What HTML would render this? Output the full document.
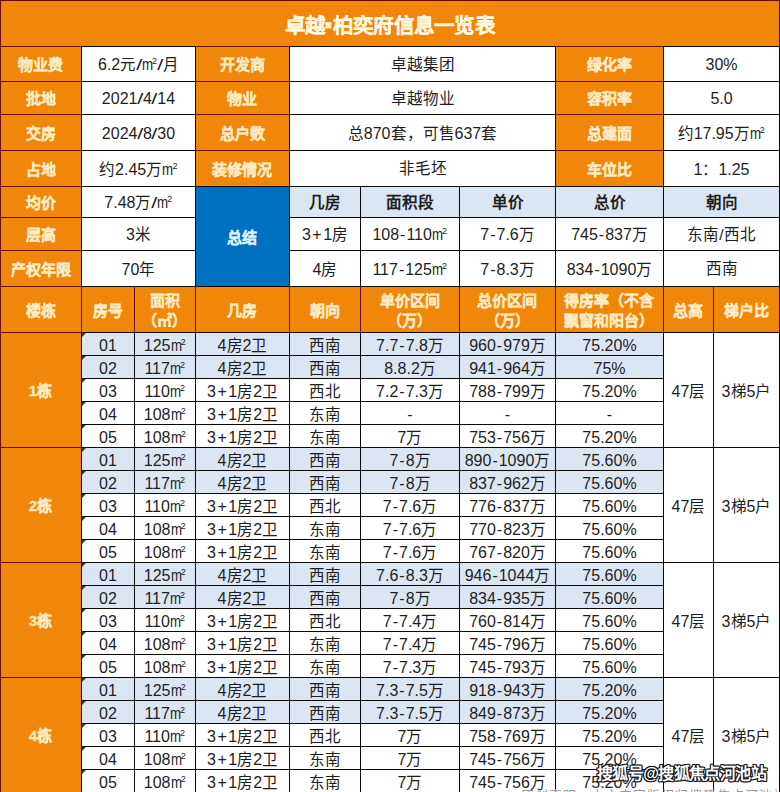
<!DOCTYPE html>
<html lang="zh-CN"><head><meta charset="utf-8">
<style>
html,body{margin:0;padding:0;background:#fff;}
body{width:780px;height:792px;position:relative;overflow:hidden;font-family:"Liberation Sans",sans-serif;}
.r{position:absolute;}
.t span{position:relative;top:1.5px;left:0.5px;}
.t i{font-style:normal;margin:0 0.6px;display:inline-block;transform:scaleX(1.4);}
.t b{font-weight:normal;font-size:16px;}
.t u{text-decoration:none;margin:0 1.5px;}
.t q{margin:0 1px;}
.t q::before,.t q::after{content:none;}
.t.b b{font-weight:bold;}
.t s{text-decoration:none;display:inline-block;width:11.2px;font-size:16px;transform:scaleX(0.83);transform-origin:0 50%;}
.t sub{font-size:9px;vertical-align:baseline;position:relative;top:-6px;margin-left:-1px;margin-right:0.5px;}
.h span{position:relative;top:1.5px;}
.t.d span{top:2.5px;}
.t,.h{position:absolute;display:flex;align-items:center;justify-content:center;text-align:center;color:#1e1e1e;font-size:15.5px;line-height:1.2;white-space:nowrap;}
.h{color:#fdebc4;font-weight:bold;font-size:15px;-webkit-text-stroke:0.3px #fdebc4;}
.title span{top:3px !important;}
.dot{font-style:normal;display:inline-block;transform:scale(1.8);}
.title{font-size:20.5px;letter-spacing:0.3px;color:#fff6e0;-webkit-text-stroke:0.3px #fff6e0;}
.blue{color:#dcf3ff;-webkit-text-stroke-color:#dcf3ff;}
.b{font-weight:bold;}
.hd{line-height:20px;}
.tri{position:absolute;width:0;height:0;border-top:4px solid #3a3f1c;border-right:4px solid transparent;}
.ft{position:absolute;left:521px;top:788px;font-size:13px;line-height:16px;color:#9a9a9a;white-space:nowrap;letter-spacing:1px;}
.wm{position:absolute;left:597px;top:766px;line-height:16px;font-size:16px;letter-spacing:-0.6px;font-weight:bold;color:#fff;white-space:nowrap;
 text-shadow:-1px -1px 0 #111,1px -1px 0 #111,-1px 1px 0 #111,1px 1px 0 #111,0 1px 0 #111,1px 0 0 #111,-1px 0 0 #111,0 -1px 0 #111;}
</style></head><body>
<div class="r" style="left:0px;top:0px;width:780px;height:46px;background:#f0860a"></div>
<div class="h title" style="left:0px;top:0px;width:780px;height:46px;"><span>卓越<em class="dot">·</em>柏奕府信息一览表</span></div>
<div class="r" style="left:0px;top:46px;width:81px;height:35px;background:#f0860a"></div>
<div class="h" style="left:0px;top:46px;width:81px;height:35px;"><span>物业费</span></div>
<div class="r" style="left:81px;top:46px;width:114px;height:35px;background:#fff"></div>
<div class="t" style="left:81px;top:46px;width:114px;height:35px;"><span><b>6.2</b>元<i>/</i><s>m</s><sub>2</sub><i>/</i>月</span></div>
<div class="r" style="left:195px;top:46px;width:94px;height:35px;background:#f0860a"></div>
<div class="h" style="left:195px;top:46px;width:94px;height:35px;"><span>开发商</span></div>
<div class="r" style="left:289px;top:46px;width:266px;height:35px;background:#fff"></div>
<div class="t" style="left:289px;top:46px;width:266px;height:35px;"><span>卓越集团</span></div>
<div class="r" style="left:555px;top:46px;width:108px;height:35px;background:#f0860a"></div>
<div class="h" style="left:555px;top:46px;width:108px;height:35px;"><span>绿化率</span></div>
<div class="r" style="left:663px;top:46px;width:116px;height:35px;background:#fff"></div>
<div class="t" style="left:663px;top:46px;width:116px;height:35px;"><span><b>30%</b></span></div>
<div class="r" style="left:0px;top:81px;width:81px;height:33px;background:#f0860a"></div>
<div class="h" style="left:0px;top:81px;width:81px;height:33px;"><span>批地</span></div>
<div class="r" style="left:81px;top:81px;width:114px;height:33px;background:#fff"></div>
<div class="t" style="left:81px;top:81px;width:114px;height:33px;"><span><b>2021</b><i>/</i><b>4</b><i>/</i><b>14</b></span></div>
<div class="r" style="left:195px;top:81px;width:94px;height:33px;background:#f0860a"></div>
<div class="h" style="left:195px;top:81px;width:94px;height:33px;"><span>物业</span></div>
<div class="r" style="left:289px;top:81px;width:266px;height:33px;background:#fff"></div>
<div class="t" style="left:289px;top:81px;width:266px;height:33px;"><span>卓越物业</span></div>
<div class="r" style="left:555px;top:81px;width:108px;height:33px;background:#f0860a"></div>
<div class="h" style="left:555px;top:81px;width:108px;height:33px;"><span>容积率</span></div>
<div class="r" style="left:663px;top:81px;width:116px;height:33px;background:#fff"></div>
<div class="t" style="left:663px;top:81px;width:116px;height:33px;"><span><b>5.0</b></span></div>
<div class="r" style="left:0px;top:114px;width:81px;height:36px;background:#f0860a"></div>
<div class="h" style="left:0px;top:114px;width:81px;height:36px;"><span>交房</span></div>
<div class="r" style="left:81px;top:114px;width:114px;height:36px;background:#fff"></div>
<div class="t" style="left:81px;top:114px;width:114px;height:36px;"><span><b>2024</b><i>/</i><b>8</b><i>/</i><b>30</b></span></div>
<div class="r" style="left:195px;top:114px;width:94px;height:36px;background:#f0860a"></div>
<div class="h" style="left:195px;top:114px;width:94px;height:36px;"><span>总户数</span></div>
<div class="r" style="left:289px;top:114px;width:266px;height:36px;background:#fff"></div>
<div class="t" style="left:289px;top:114px;width:266px;height:36px;"><span>总<b>870</b>套，可售<b>637</b>套</span></div>
<div class="r" style="left:555px;top:114px;width:108px;height:36px;background:#f0860a"></div>
<div class="h" style="left:555px;top:114px;width:108px;height:36px;"><span>总建面</span></div>
<div class="r" style="left:663px;top:114px;width:116px;height:36px;background:#fff"></div>
<div class="t" style="left:663px;top:114px;width:116px;height:36px;"><span>约<b>17.95</b>万<s>m</s><sub>2</sub></span></div>
<div class="r" style="left:0px;top:150px;width:81px;height:36px;background:#f0860a"></div>
<div class="h" style="left:0px;top:150px;width:81px;height:36px;"><span>占地</span></div>
<div class="r" style="left:81px;top:150px;width:114px;height:36px;background:#fff"></div>
<div class="t" style="left:81px;top:150px;width:114px;height:36px;"><span>约<b>2.45</b>万<s>m</s><sub>2</sub></span></div>
<div class="r" style="left:195px;top:150px;width:94px;height:36px;background:#f0860a"></div>
<div class="h" style="left:195px;top:150px;width:94px;height:36px;"><span>装修情况</span></div>
<div class="r" style="left:289px;top:150px;width:266px;height:36px;background:#fff"></div>
<div class="t" style="left:289px;top:150px;width:266px;height:36px;"><span>非毛坯</span></div>
<div class="r" style="left:555px;top:150px;width:108px;height:36px;background:#f0860a"></div>
<div class="h" style="left:555px;top:150px;width:108px;height:36px;"><span>车位比</span></div>
<div class="r" style="left:663px;top:150px;width:116px;height:36px;background:#fff"></div>
<div class="t" style="left:663px;top:150px;width:116px;height:36px;"><span><b>1</b>：<b>1.25</b></span></div>
<div class="r" style="left:0px;top:186px;width:81px;height:31px;background:#f0860a"></div>
<div class="h" style="left:0px;top:186px;width:81px;height:31px;"><span>均价</span></div>
<div class="r" style="left:81px;top:186px;width:114px;height:31px;background:#fff"></div>
<div class="t" style="left:81px;top:186px;width:114px;height:31px;"><span><b>7.48</b>万<i>/</i><s>m</s><sub>2</sub></span></div>
<div class="r" style="left:0px;top:217px;width:81px;height:33px;background:#f0860a"></div>
<div class="h" style="left:0px;top:217px;width:81px;height:33px;"><span>层高</span></div>
<div class="r" style="left:81px;top:217px;width:114px;height:33px;background:#fff"></div>
<div class="t" style="left:81px;top:217px;width:114px;height:33px;"><span><b>3</b>米</span></div>
<div class="r" style="left:0px;top:250px;width:81px;height:36px;background:#f0860a"></div>
<div class="h" style="left:0px;top:250px;width:81px;height:36px;"><span>产权年限</span></div>
<div class="r" style="left:81px;top:250px;width:114px;height:36px;background:#fff"></div>
<div class="t" style="left:81px;top:250px;width:114px;height:36px;"><span><b>70</b>年</span></div>
<div class="r" style="left:195px;top:186px;width:94px;height:100px;background:#0070c0"></div>
<div class="h blue" style="left:195px;top:186px;width:94px;height:100px;"><span>总结</span></div>
<div class="r" style="left:289px;top:186px;width:71px;height:31px;background:#dce5f2"></div>
<div class="t b" style="left:289px;top:186px;width:71px;height:31px;"><span>几房</span></div>
<div class="r" style="left:360px;top:186px;width:99px;height:31px;background:#dce5f2"></div>
<div class="t b" style="left:360px;top:186px;width:99px;height:31px;"><span>面积段</span></div>
<div class="r" style="left:459px;top:186px;width:96px;height:31px;background:#dce5f2"></div>
<div class="t b" style="left:459px;top:186px;width:96px;height:31px;"><span>单价</span></div>
<div class="r" style="left:555px;top:186px;width:108px;height:31px;background:#dce5f2"></div>
<div class="t b" style="left:555px;top:186px;width:108px;height:31px;"><span>总价</span></div>
<div class="r" style="left:663px;top:186px;width:116px;height:31px;background:#dce5f2"></div>
<div class="t b" style="left:663px;top:186px;width:116px;height:31px;"><span>朝向</span></div>
<div class="r" style="left:289px;top:217px;width:71px;height:33px;background:#fff"></div>
<div class="t" style="left:289px;top:217px;width:71px;height:33px;"><span><b>3<u>+</u>1</b>房</span></div>
<div class="r" style="left:360px;top:217px;width:99px;height:33px;background:#fff"></div>
<div class="t" style="left:360px;top:217px;width:99px;height:33px;"><span><b>108<q>-</q>110</b><s>m</s><sub>2</sub></span></div>
<div class="r" style="left:459px;top:217px;width:96px;height:33px;background:#fff"></div>
<div class="t" style="left:459px;top:217px;width:96px;height:33px;"><span><b>7<q>-</q>7.6</b>万</span></div>
<div class="r" style="left:555px;top:217px;width:108px;height:33px;background:#fff"></div>
<div class="t" style="left:555px;top:217px;width:108px;height:33px;"><span><b>745<q>-</q>837</b>万</span></div>
<div class="r" style="left:663px;top:217px;width:116px;height:33px;background:#fff"></div>
<div class="t" style="left:663px;top:217px;width:116px;height:33px;"><span>东南/西北</span></div>
<div class="r" style="left:289px;top:250px;width:71px;height:36px;background:#fff"></div>
<div class="t" style="left:289px;top:250px;width:71px;height:36px;"><span><b>4</b>房</span></div>
<div class="r" style="left:360px;top:250px;width:99px;height:36px;background:#fff"></div>
<div class="t" style="left:360px;top:250px;width:99px;height:36px;"><span><b>117<q>-</q>125</b><s>m</s><sub>2</sub></span></div>
<div class="r" style="left:459px;top:250px;width:96px;height:36px;background:#fff"></div>
<div class="t" style="left:459px;top:250px;width:96px;height:36px;"><span><b>7<q>-</q>8.3</b>万</span></div>
<div class="r" style="left:555px;top:250px;width:108px;height:36px;background:#fff"></div>
<div class="t" style="left:555px;top:250px;width:108px;height:36px;"><span><b>834<q>-</q>1090</b>万</span></div>
<div class="r" style="left:663px;top:250px;width:116px;height:36px;background:#fff"></div>
<div class="t" style="left:663px;top:250px;width:116px;height:36px;"><span>西南</span></div>
<div class="r" style="left:0px;top:286px;width:81px;height:46px;background:#f0860a"></div>
<div class="h hd" style="left:0px;top:286px;width:81px;height:46px;"><span>楼栋</span></div>
<div class="r" style="left:81px;top:286px;width:53px;height:46px;background:#f0860a"></div>
<div class="h hd" style="left:81px;top:286px;width:53px;height:46px;"><span>房号</span></div>
<div class="r" style="left:134px;top:286px;width:61px;height:46px;background:#f0860a"></div>
<div class="h hd" style="left:134px;top:286px;width:61px;height:46px;"><span>面积<br>（㎡）</span></div>
<div class="r" style="left:195px;top:286px;width:94px;height:46px;background:#f0860a"></div>
<div class="h hd" style="left:195px;top:286px;width:94px;height:46px;"><span>几房</span></div>
<div class="r" style="left:289px;top:286px;width:71px;height:46px;background:#f0860a"></div>
<div class="h hd" style="left:289px;top:286px;width:71px;height:46px;"><span>朝向</span></div>
<div class="r" style="left:360px;top:286px;width:99px;height:46px;background:#f0860a"></div>
<div class="h hd" style="left:360px;top:286px;width:99px;height:46px;"><span>单价区间<br>（万）</span></div>
<div class="r" style="left:459px;top:286px;width:96px;height:46px;background:#f0860a"></div>
<div class="h hd" style="left:459px;top:286px;width:96px;height:46px;"><span>总价区间<br>（万）</span></div>
<div class="r" style="left:555px;top:286px;width:108px;height:46px;background:#f0860a"></div>
<div class="h hd" style="left:555px;top:286px;width:108px;height:46px;"><span>得房率（不含<br>飘窗和阳台）</span></div>
<div class="r" style="left:663px;top:286px;width:50px;height:46px;background:#f0860a"></div>
<div class="h hd" style="left:663px;top:286px;width:50px;height:46px;"><span>总高</span></div>
<div class="r" style="left:713px;top:286px;width:66px;height:46px;background:#f0860a"></div>
<div class="h hd" style="left:713px;top:286px;width:66px;height:46px;"><span>梯户比</span></div>
<div class="r" style="left:0px;top:332.0px;width:81px;height:115.0px;background:#f0860a"></div>
<div class="h" style="left:0px;top:332.0px;width:81px;height:115.0px;"><span>1栋</span></div>
<div class="r" style="left:663px;top:332.0px;width:50px;height:115.0px;background:#fff"></div>
<div class="t d" style="left:663px;top:332.0px;width:50px;height:115.0px;"><span><b>47</b>层</span></div>
<div class="r" style="left:713px;top:332.0px;width:66px;height:115.0px;background:#fff"></div>
<div class="t d" style="left:713px;top:332.0px;width:66px;height:115.0px;"><span><b>3</b>梯<b>5</b>户</span></div>
<div class="r" style="left:81px;top:332.0px;width:582px;height:23.0px;background:#dce5f2"></div>
<div class="t d" style="left:81px;top:332.0px;width:53px;height:23.0px;"><span><b>01</b></span></div>
<div class="t d" style="left:134px;top:332.0px;width:61px;height:23.0px;"><span><b>125</b><s>m</s><sub>2</sub></span></div>
<div class="t d" style="left:195px;top:332.0px;width:94px;height:23.0px;"><span><b>4</b>房<b>2</b>卫</span></div>
<div class="t d" style="left:289px;top:332.0px;width:71px;height:23.0px;"><span>西南</span></div>
<div class="t d" style="left:360px;top:332.0px;width:99px;height:23.0px;"><span><b>7.7<q>-</q>7.8</b>万</span></div>
<div class="t d" style="left:459px;top:332.0px;width:96px;height:23.0px;"><span><b>960<q>-</q>979</b>万</span></div>
<div class="t d" style="left:555px;top:332.0px;width:108px;height:23.0px;"><span><b>75.20%</b></span></div>
<div class="r" style="left:81px;top:355.0px;width:582px;height:23.0px;background:#dce5f2"></div>
<div class="t d" style="left:81px;top:355.0px;width:53px;height:23.0px;"><span><b>02</b></span></div>
<div class="t d" style="left:134px;top:355.0px;width:61px;height:23.0px;"><span><b>117</b><s>m</s><sub>2</sub></span></div>
<div class="t d" style="left:195px;top:355.0px;width:94px;height:23.0px;"><span><b>4</b>房<b>2</b>卫</span></div>
<div class="t d" style="left:289px;top:355.0px;width:71px;height:23.0px;"><span>西南</span></div>
<div class="t d" style="left:360px;top:355.0px;width:99px;height:23.0px;"><span><b>8.8.2</b>万</span></div>
<div class="t d" style="left:459px;top:355.0px;width:96px;height:23.0px;"><span><b>941<q>-</q>964</b>万</span></div>
<div class="t d" style="left:555px;top:355.0px;width:108px;height:23.0px;"><span><b>75%</b></span></div>
<div class="r" style="left:81px;top:378.0px;width:582px;height:23.0px;background:#fff"></div>
<div class="t d" style="left:81px;top:378.0px;width:53px;height:23.0px;"><span><b>03</b></span></div>
<div class="t d" style="left:134px;top:378.0px;width:61px;height:23.0px;"><span><b>110</b><s>m</s><sub>2</sub></span></div>
<div class="t d" style="left:195px;top:378.0px;width:94px;height:23.0px;"><span><b>3<u>+</u>1</b>房<b>2</b>卫</span></div>
<div class="t d" style="left:289px;top:378.0px;width:71px;height:23.0px;"><span>西北</span></div>
<div class="t d" style="left:360px;top:378.0px;width:99px;height:23.0px;"><span><b>7.2<q>-</q>7.3</b>万</span></div>
<div class="t d" style="left:459px;top:378.0px;width:96px;height:23.0px;"><span><b>788<q>-</q>799</b>万</span></div>
<div class="t d" style="left:555px;top:378.0px;width:108px;height:23.0px;"><span><b>75.20%</b></span></div>
<div class="r" style="left:81px;top:401.0px;width:582px;height:23.0px;background:#fff"></div>
<div class="t d" style="left:81px;top:401.0px;width:53px;height:23.0px;"><span><b>04</b></span></div>
<div class="t d" style="left:134px;top:401.0px;width:61px;height:23.0px;"><span><b>108</b><s>m</s><sub>2</sub></span></div>
<div class="t d" style="left:195px;top:401.0px;width:94px;height:23.0px;"><span><b>3<u>+</u>1</b>房<b>2</b>卫</span></div>
<div class="t d" style="left:289px;top:401.0px;width:71px;height:23.0px;"><span>东南</span></div>
<div class="t d" style="left:360px;top:401.0px;width:99px;height:23.0px;"><span><b><q>-</q></b></span></div>
<div class="t d" style="left:459px;top:401.0px;width:96px;height:23.0px;"><span><b><q>-</q></b></span></div>
<div class="t d" style="left:555px;top:401.0px;width:108px;height:23.0px;"><span><b><q>-</q></b></span></div>
<div class="r" style="left:81px;top:424.0px;width:582px;height:23.0px;background:#fff"></div>
<div class="t d" style="left:81px;top:424.0px;width:53px;height:23.0px;"><span><b>05</b></span></div>
<div class="t d" style="left:134px;top:424.0px;width:61px;height:23.0px;"><span><b>108</b><s>m</s><sub>2</sub></span></div>
<div class="t d" style="left:195px;top:424.0px;width:94px;height:23.0px;"><span><b>3<u>+</u>1</b>房<b>2</b>卫</span></div>
<div class="t d" style="left:289px;top:424.0px;width:71px;height:23.0px;"><span>东南</span></div>
<div class="t d" style="left:360px;top:424.0px;width:99px;height:23.0px;"><span><b>7</b>万</span></div>
<div class="t d" style="left:459px;top:424.0px;width:96px;height:23.0px;"><span><b>753<q>-</q>756</b>万</span></div>
<div class="t d" style="left:555px;top:424.0px;width:108px;height:23.0px;"><span><b>75.20%</b></span></div>
<div class="r" style="left:0px;top:447.0px;width:81px;height:115.0px;background:#f0860a"></div>
<div class="h" style="left:0px;top:447.0px;width:81px;height:115.0px;"><span>2栋</span></div>
<div class="r" style="left:663px;top:447.0px;width:50px;height:115.0px;background:#fff"></div>
<div class="t d" style="left:663px;top:447.0px;width:50px;height:115.0px;"><span><b>47</b>层</span></div>
<div class="r" style="left:713px;top:447.0px;width:66px;height:115.0px;background:#fff"></div>
<div class="t d" style="left:713px;top:447.0px;width:66px;height:115.0px;"><span><b>3</b>梯<b>5</b>户</span></div>
<div class="r" style="left:81px;top:447.0px;width:582px;height:23.0px;background:#dce5f2"></div>
<div class="t d" style="left:81px;top:447.0px;width:53px;height:23.0px;"><span><b>01</b></span></div>
<div class="t d" style="left:134px;top:447.0px;width:61px;height:23.0px;"><span><b>125</b><s>m</s><sub>2</sub></span></div>
<div class="t d" style="left:195px;top:447.0px;width:94px;height:23.0px;"><span><b>4</b>房<b>2</b>卫</span></div>
<div class="t d" style="left:289px;top:447.0px;width:71px;height:23.0px;"><span>西南</span></div>
<div class="t d" style="left:360px;top:447.0px;width:99px;height:23.0px;"><span><b>7<q>-</q>8</b>万</span></div>
<div class="t d" style="left:459px;top:447.0px;width:96px;height:23.0px;"><span><b>890<q>-</q>1090</b>万</span></div>
<div class="t d" style="left:555px;top:447.0px;width:108px;height:23.0px;"><span><b>75.60%</b></span></div>
<div class="r" style="left:81px;top:470.0px;width:582px;height:23.0px;background:#dce5f2"></div>
<div class="t d" style="left:81px;top:470.0px;width:53px;height:23.0px;"><span><b>02</b></span></div>
<div class="t d" style="left:134px;top:470.0px;width:61px;height:23.0px;"><span><b>117</b><s>m</s><sub>2</sub></span></div>
<div class="t d" style="left:195px;top:470.0px;width:94px;height:23.0px;"><span><b>4</b>房<b>2</b>卫</span></div>
<div class="t d" style="left:289px;top:470.0px;width:71px;height:23.0px;"><span>西南</span></div>
<div class="t d" style="left:360px;top:470.0px;width:99px;height:23.0px;"><span><b>7<q>-</q>8</b>万</span></div>
<div class="t d" style="left:459px;top:470.0px;width:96px;height:23.0px;"><span><b>837<q>-</q>962</b>万</span></div>
<div class="t d" style="left:555px;top:470.0px;width:108px;height:23.0px;"><span><b>75.60%</b></span></div>
<div class="r" style="left:81px;top:493.0px;width:582px;height:23.0px;background:#fff"></div>
<div class="t d" style="left:81px;top:493.0px;width:53px;height:23.0px;"><span><b>03</b></span></div>
<div class="t d" style="left:134px;top:493.0px;width:61px;height:23.0px;"><span><b>110</b><s>m</s><sub>2</sub></span></div>
<div class="t d" style="left:195px;top:493.0px;width:94px;height:23.0px;"><span><b>3<u>+</u>1</b>房<b>2</b>卫</span></div>
<div class="t d" style="left:289px;top:493.0px;width:71px;height:23.0px;"><span>西北</span></div>
<div class="t d" style="left:360px;top:493.0px;width:99px;height:23.0px;"><span><b>7<q>-</q>7.6</b>万</span></div>
<div class="t d" style="left:459px;top:493.0px;width:96px;height:23.0px;"><span><b>776<q>-</q>837</b>万</span></div>
<div class="t d" style="left:555px;top:493.0px;width:108px;height:23.0px;"><span><b>75.60%</b></span></div>
<div class="r" style="left:81px;top:516.0px;width:582px;height:23.0px;background:#fff"></div>
<div class="t d" style="left:81px;top:516.0px;width:53px;height:23.0px;"><span><b>04</b></span></div>
<div class="t d" style="left:134px;top:516.0px;width:61px;height:23.0px;"><span><b>108</b><s>m</s><sub>2</sub></span></div>
<div class="t d" style="left:195px;top:516.0px;width:94px;height:23.0px;"><span><b>3<u>+</u>1</b>房<b>2</b>卫</span></div>
<div class="t d" style="left:289px;top:516.0px;width:71px;height:23.0px;"><span>东南</span></div>
<div class="t d" style="left:360px;top:516.0px;width:99px;height:23.0px;"><span><b>7<q>-</q>7.6</b>万</span></div>
<div class="t d" style="left:459px;top:516.0px;width:96px;height:23.0px;"><span><b>770<q>-</q>823</b>万</span></div>
<div class="t d" style="left:555px;top:516.0px;width:108px;height:23.0px;"><span><b>75.60%</b></span></div>
<div class="r" style="left:81px;top:539.0px;width:582px;height:23.0px;background:#fff"></div>
<div class="t d" style="left:81px;top:539.0px;width:53px;height:23.0px;"><span><b>05</b></span></div>
<div class="t d" style="left:134px;top:539.0px;width:61px;height:23.0px;"><span><b>108</b><s>m</s><sub>2</sub></span></div>
<div class="t d" style="left:195px;top:539.0px;width:94px;height:23.0px;"><span><b>3<u>+</u>1</b>房<b>2</b>卫</span></div>
<div class="t d" style="left:289px;top:539.0px;width:71px;height:23.0px;"><span>东南</span></div>
<div class="t d" style="left:360px;top:539.0px;width:99px;height:23.0px;"><span><b>7<q>-</q>7.6</b>万</span></div>
<div class="t d" style="left:459px;top:539.0px;width:96px;height:23.0px;"><span><b>767<q>-</q>820</b>万</span></div>
<div class="t d" style="left:555px;top:539.0px;width:108px;height:23.0px;"><span><b>75.60%</b></span></div>
<div class="r" style="left:0px;top:562.0px;width:81px;height:115.0px;background:#f0860a"></div>
<div class="h" style="left:0px;top:562.0px;width:81px;height:115.0px;"><span>3栋</span></div>
<div class="r" style="left:663px;top:562.0px;width:50px;height:115.0px;background:#fff"></div>
<div class="t d" style="left:663px;top:562.0px;width:50px;height:115.0px;"><span><b>47</b>层</span></div>
<div class="r" style="left:713px;top:562.0px;width:66px;height:115.0px;background:#fff"></div>
<div class="t d" style="left:713px;top:562.0px;width:66px;height:115.0px;"><span><b>3</b>梯<b>5</b>户</span></div>
<div class="r" style="left:81px;top:562.0px;width:582px;height:23.0px;background:#dce5f2"></div>
<div class="t d" style="left:81px;top:562.0px;width:53px;height:23.0px;"><span><b>01</b></span></div>
<div class="t d" style="left:134px;top:562.0px;width:61px;height:23.0px;"><span><b>125</b><s>m</s><sub>2</sub></span></div>
<div class="t d" style="left:195px;top:562.0px;width:94px;height:23.0px;"><span><b>4</b>房<b>2</b>卫</span></div>
<div class="t d" style="left:289px;top:562.0px;width:71px;height:23.0px;"><span>西南</span></div>
<div class="t d" style="left:360px;top:562.0px;width:99px;height:23.0px;"><span><b>7.6<q>-</q>8.3</b>万</span></div>
<div class="t d" style="left:459px;top:562.0px;width:96px;height:23.0px;"><span><b>946<q>-</q>1044</b>万</span></div>
<div class="t d" style="left:555px;top:562.0px;width:108px;height:23.0px;"><span><b>75.60%</b></span></div>
<div class="r" style="left:81px;top:585.0px;width:582px;height:23.0px;background:#dce5f2"></div>
<div class="t d" style="left:81px;top:585.0px;width:53px;height:23.0px;"><span><b>02</b></span></div>
<div class="t d" style="left:134px;top:585.0px;width:61px;height:23.0px;"><span><b>117</b><s>m</s><sub>2</sub></span></div>
<div class="t d" style="left:195px;top:585.0px;width:94px;height:23.0px;"><span><b>4</b>房<b>2</b>卫</span></div>
<div class="t d" style="left:289px;top:585.0px;width:71px;height:23.0px;"><span>西南</span></div>
<div class="t d" style="left:360px;top:585.0px;width:99px;height:23.0px;"><span><b>7<q>-</q>8</b>万</span></div>
<div class="t d" style="left:459px;top:585.0px;width:96px;height:23.0px;"><span><b>834<q>-</q>935</b>万</span></div>
<div class="t d" style="left:555px;top:585.0px;width:108px;height:23.0px;"><span><b>75.60%</b></span></div>
<div class="r" style="left:81px;top:608.0px;width:582px;height:23.0px;background:#fff"></div>
<div class="t d" style="left:81px;top:608.0px;width:53px;height:23.0px;"><span><b>03</b></span></div>
<div class="t d" style="left:134px;top:608.0px;width:61px;height:23.0px;"><span><b>110</b><s>m</s><sub>2</sub></span></div>
<div class="t d" style="left:195px;top:608.0px;width:94px;height:23.0px;"><span><b>3<u>+</u>1</b>房<b>2</b>卫</span></div>
<div class="t d" style="left:289px;top:608.0px;width:71px;height:23.0px;"><span>西北</span></div>
<div class="t d" style="left:360px;top:608.0px;width:99px;height:23.0px;"><span><b>7<q>-</q>7.4</b>万</span></div>
<div class="t d" style="left:459px;top:608.0px;width:96px;height:23.0px;"><span><b>760<q>-</q>814</b>万</span></div>
<div class="t d" style="left:555px;top:608.0px;width:108px;height:23.0px;"><span><b>75.60%</b></span></div>
<div class="r" style="left:81px;top:631.0px;width:582px;height:23.0px;background:#fff"></div>
<div class="t d" style="left:81px;top:631.0px;width:53px;height:23.0px;"><span><b>04</b></span></div>
<div class="t d" style="left:134px;top:631.0px;width:61px;height:23.0px;"><span><b>108</b><s>m</s><sub>2</sub></span></div>
<div class="t d" style="left:195px;top:631.0px;width:94px;height:23.0px;"><span><b>3<u>+</u>1</b>房<b>2</b>卫</span></div>
<div class="t d" style="left:289px;top:631.0px;width:71px;height:23.0px;"><span>东南</span></div>
<div class="t d" style="left:360px;top:631.0px;width:99px;height:23.0px;"><span><b>7<q>-</q>7.4</b>万</span></div>
<div class="t d" style="left:459px;top:631.0px;width:96px;height:23.0px;"><span><b>745<q>-</q>796</b>万</span></div>
<div class="t d" style="left:555px;top:631.0px;width:108px;height:23.0px;"><span><b>75.60%</b></span></div>
<div class="r" style="left:81px;top:654.0px;width:582px;height:23.0px;background:#fff"></div>
<div class="t d" style="left:81px;top:654.0px;width:53px;height:23.0px;"><span><b>05</b></span></div>
<div class="t d" style="left:134px;top:654.0px;width:61px;height:23.0px;"><span><b>108</b><s>m</s><sub>2</sub></span></div>
<div class="t d" style="left:195px;top:654.0px;width:94px;height:23.0px;"><span><b>3<u>+</u>1</b>房<b>2</b>卫</span></div>
<div class="t d" style="left:289px;top:654.0px;width:71px;height:23.0px;"><span>东南</span></div>
<div class="t d" style="left:360px;top:654.0px;width:99px;height:23.0px;"><span><b>7<q>-</q>7.3</b>万</span></div>
<div class="t d" style="left:459px;top:654.0px;width:96px;height:23.0px;"><span><b>745<q>-</q>793</b>万</span></div>
<div class="t d" style="left:555px;top:654.0px;width:108px;height:23.0px;"><span><b>75.60%</b></span></div>
<div class="r" style="left:0px;top:677.0px;width:81px;height:115.0px;background:#f0860a"></div>
<div class="h" style="left:0px;top:677.0px;width:81px;height:115.0px;"><span>4栋</span></div>
<div class="r" style="left:663px;top:677.0px;width:50px;height:115.0px;background:#fff"></div>
<div class="t d" style="left:663px;top:677.0px;width:50px;height:115.0px;"><span><b>47</b>层</span></div>
<div class="r" style="left:713px;top:677.0px;width:66px;height:115.0px;background:#fff"></div>
<div class="t d" style="left:713px;top:677.0px;width:66px;height:115.0px;"><span><b>3</b>梯<b>5</b>户</span></div>
<div class="r" style="left:81px;top:677.0px;width:582px;height:23.0px;background:#dce5f2"></div>
<div class="t d" style="left:81px;top:677.0px;width:53px;height:23.0px;"><span><b>01</b></span></div>
<div class="t d" style="left:134px;top:677.0px;width:61px;height:23.0px;"><span><b>125</b><s>m</s><sub>2</sub></span></div>
<div class="t d" style="left:195px;top:677.0px;width:94px;height:23.0px;"><span><b>4</b>房<b>2</b>卫</span></div>
<div class="t d" style="left:289px;top:677.0px;width:71px;height:23.0px;"><span>西南</span></div>
<div class="t d" style="left:360px;top:677.0px;width:99px;height:23.0px;"><span><b>7.3<q>-</q>7.5</b>万</span></div>
<div class="t d" style="left:459px;top:677.0px;width:96px;height:23.0px;"><span><b>918<q>-</q>943</b>万</span></div>
<div class="t d" style="left:555px;top:677.0px;width:108px;height:23.0px;"><span><b>75.20%</b></span></div>
<div class="r" style="left:81px;top:700.0px;width:582px;height:23.0px;background:#dce5f2"></div>
<div class="t d" style="left:81px;top:700.0px;width:53px;height:23.0px;"><span><b>02</b></span></div>
<div class="t d" style="left:134px;top:700.0px;width:61px;height:23.0px;"><span><b>117</b><s>m</s><sub>2</sub></span></div>
<div class="t d" style="left:195px;top:700.0px;width:94px;height:23.0px;"><span><b>4</b>房<b>2</b>卫</span></div>
<div class="t d" style="left:289px;top:700.0px;width:71px;height:23.0px;"><span>西南</span></div>
<div class="t d" style="left:360px;top:700.0px;width:99px;height:23.0px;"><span><b>7.3<q>-</q>7.5</b>万</span></div>
<div class="t d" style="left:459px;top:700.0px;width:96px;height:23.0px;"><span><b>849<q>-</q>873</b>万</span></div>
<div class="t d" style="left:555px;top:700.0px;width:108px;height:23.0px;"><span><b>75.20%</b></span></div>
<div class="r" style="left:81px;top:723.0px;width:582px;height:23.0px;background:#fff"></div>
<div class="t d" style="left:81px;top:723.0px;width:53px;height:23.0px;"><span><b>03</b></span></div>
<div class="t d" style="left:134px;top:723.0px;width:61px;height:23.0px;"><span><b>110</b><s>m</s><sub>2</sub></span></div>
<div class="t d" style="left:195px;top:723.0px;width:94px;height:23.0px;"><span><b>3<u>+</u>1</b>房<b>2</b>卫</span></div>
<div class="t d" style="left:289px;top:723.0px;width:71px;height:23.0px;"><span>西北</span></div>
<div class="t d" style="left:360px;top:723.0px;width:99px;height:23.0px;"><span><b>7</b>万</span></div>
<div class="t d" style="left:459px;top:723.0px;width:96px;height:23.0px;"><span><b>758<q>-</q>769</b>万</span></div>
<div class="t d" style="left:555px;top:723.0px;width:108px;height:23.0px;"><span><b>75.20%</b></span></div>
<div class="r" style="left:81px;top:746.0px;width:582px;height:23.0px;background:#fff"></div>
<div class="t d" style="left:81px;top:746.0px;width:53px;height:23.0px;"><span><b>04</b></span></div>
<div class="t d" style="left:134px;top:746.0px;width:61px;height:23.0px;"><span><b>108</b><s>m</s><sub>2</sub></span></div>
<div class="t d" style="left:195px;top:746.0px;width:94px;height:23.0px;"><span><b>3<u>+</u>1</b>房<b>2</b>卫</span></div>
<div class="t d" style="left:289px;top:746.0px;width:71px;height:23.0px;"><span>东南</span></div>
<div class="t d" style="left:360px;top:746.0px;width:99px;height:23.0px;"><span><b>7</b>万</span></div>
<div class="t d" style="left:459px;top:746.0px;width:96px;height:23.0px;"><span><b>745<q>-</q>756</b>万</span></div>
<div class="t d" style="left:555px;top:746.0px;width:108px;height:23.0px;"><span><b>75.20%</b></span></div>
<div class="r" style="left:81px;top:769.0px;width:582px;height:23.0px;background:#fff"></div>
<div class="t d" style="left:81px;top:769.0px;width:53px;height:23.0px;"><span><b>05</b></span></div>
<div class="t d" style="left:134px;top:769.0px;width:61px;height:23.0px;"><span><b>108</b><s>m</s><sub>2</sub></span></div>
<div class="t d" style="left:195px;top:769.0px;width:94px;height:23.0px;"><span><b>3<u>+</u>1</b>房<b>2</b>卫</span></div>
<div class="t d" style="left:289px;top:769.0px;width:71px;height:23.0px;"><span>东南</span></div>
<div class="t d" style="left:360px;top:769.0px;width:99px;height:23.0px;"><span><b>7</b>万</span></div>
<div class="t d" style="left:459px;top:769.0px;width:96px;height:23.0px;"><span><b>745<q>-</q>756</b>万</span></div>
<div class="t d" style="left:555px;top:769.0px;width:108px;height:23.0px;"><span><b>75.20%</b></span></div>
<div class="r" style="left:0px;top:0px;width:780px;height:1px;background:#0c0806"></div>
<div class="r" style="left:0px;top:45.5px;width:780px;height:1px;background:#0c0806"></div>
<div class="r" style="left:0px;top:81px;width:780px;height:1px;background:#0c0806"></div>
<div class="r" style="left:0px;top:114px;width:780px;height:1px;background:#0c0806"></div>
<div class="r" style="left:0px;top:150px;width:780px;height:1px;background:#0c0806"></div>
<div class="r" style="left:0px;top:186px;width:780px;height:1px;background:#0c0806"></div>
<div class="r" style="left:0px;top:217px;width:195px;height:1px;background:#0c0806"></div>
<div class="r" style="left:289px;top:217px;width:491px;height:1px;background:#0c0806"></div>
<div class="r" style="left:0px;top:250px;width:195px;height:1px;background:#0c0806"></div>
<div class="r" style="left:289px;top:250px;width:491px;height:1px;background:#0c0806"></div>
<div class="r" style="left:0px;top:286px;width:780px;height:1px;background:#0c0806"></div>
<div class="r" style="left:0px;top:332px;width:780px;height:1px;background:#0c0806"></div>
<div class="r" style="left:81px;top:355.0px;width:582px;height:1px;background:#0c0806"></div>
<div class="r" style="left:81px;top:378.0px;width:582px;height:1px;background:#0c0806"></div>
<div class="r" style="left:81px;top:401.0px;width:582px;height:1px;background:#0c0806"></div>
<div class="r" style="left:81px;top:424.0px;width:582px;height:1px;background:#0c0806"></div>
<div class="r" style="left:0px;top:447.0px;width:780px;height:1px;background:#0c0806"></div>
<div class="r" style="left:81px;top:470.0px;width:582px;height:1px;background:#0c0806"></div>
<div class="r" style="left:81px;top:493.0px;width:582px;height:1px;background:#0c0806"></div>
<div class="r" style="left:81px;top:516.0px;width:582px;height:1px;background:#0c0806"></div>
<div class="r" style="left:81px;top:539.0px;width:582px;height:1px;background:#0c0806"></div>
<div class="r" style="left:0px;top:562.0px;width:780px;height:1px;background:#0c0806"></div>
<div class="r" style="left:81px;top:585.0px;width:582px;height:1px;background:#0c0806"></div>
<div class="r" style="left:81px;top:608.0px;width:582px;height:1px;background:#0c0806"></div>
<div class="r" style="left:81px;top:631.0px;width:582px;height:1px;background:#0c0806"></div>
<div class="r" style="left:81px;top:654.0px;width:582px;height:1px;background:#0c0806"></div>
<div class="r" style="left:0px;top:677.0px;width:780px;height:1px;background:#0c0806"></div>
<div class="r" style="left:81px;top:700.0px;width:582px;height:1px;background:#0c0806"></div>
<div class="r" style="left:81px;top:723.0px;width:582px;height:1px;background:#0c0806"></div>
<div class="r" style="left:81px;top:746.0px;width:582px;height:1px;background:#0c0806"></div>
<div class="r" style="left:81px;top:769.0px;width:582px;height:1px;background:#0c0806"></div>
<div class="r" style="left:0px;top:792.0px;width:780px;height:1px;background:#0c0806"></div>
<div class="r" style="left:0px;top:0px;width:1px;height:792px;background:#0c0806"></div>
<div class="r" style="left:779px;top:0px;width:1px;height:792px;background:#0c0806"></div>
<div class="r" style="left:81px;top:45.5px;width:1px;height:140.5px;background:#0c0806"></div>
<div class="r" style="left:195px;top:45.5px;width:1px;height:140.5px;background:#0c0806"></div>
<div class="r" style="left:289px;top:45.5px;width:1px;height:140.5px;background:#0c0806"></div>
<div class="r" style="left:555px;top:45.5px;width:1px;height:140.5px;background:#0c0806"></div>
<div class="r" style="left:663px;top:45.5px;width:1px;height:140.5px;background:#0c0806"></div>
<div class="r" style="left:81px;top:186px;width:1px;height:100px;background:#0c0806"></div>
<div class="r" style="left:195px;top:186px;width:1px;height:100px;background:#0c0806"></div>
<div class="r" style="left:289px;top:186px;width:1px;height:100px;background:#0c0806"></div>
<div class="r" style="left:360px;top:186px;width:1px;height:100px;background:#0c0806"></div>
<div class="r" style="left:459px;top:186px;width:1px;height:100px;background:#0c0806"></div>
<div class="r" style="left:555px;top:186px;width:1px;height:100px;background:#0c0806"></div>
<div class="r" style="left:663px;top:186px;width:1px;height:100px;background:#0c0806"></div>
<div class="r" style="left:81px;top:286px;width:1px;height:506px;background:#0c0806"></div>
<div class="r" style="left:134px;top:286px;width:1px;height:506px;background:#0c0806"></div>
<div class="r" style="left:195px;top:286px;width:1px;height:506px;background:#0c0806"></div>
<div class="r" style="left:289px;top:286px;width:1px;height:506px;background:#0c0806"></div>
<div class="r" style="left:360px;top:286px;width:1px;height:506px;background:#0c0806"></div>
<div class="r" style="left:459px;top:286px;width:1px;height:506px;background:#0c0806"></div>
<div class="r" style="left:555px;top:286px;width:1px;height:506px;background:#0c0806"></div>
<div class="r" style="left:663px;top:286px;width:1px;height:506px;background:#0c0806"></div>
<div class="r" style="left:713px;top:286px;width:1px;height:506px;background:#0c0806"></div>
<div class="r" style="left:0px;top:45.5px;width:81px;height:1px;background:#680c02"></div>
<div class="r" style="left:195px;top:45.5px;width:94px;height:1px;background:#680c02"></div>
<div class="r" style="left:555px;top:45.5px;width:108px;height:1px;background:#680c02"></div>
<div class="r" style="left:0px;top:81px;width:81px;height:1px;background:#680c02"></div>
<div class="r" style="left:195px;top:81px;width:94px;height:1px;background:#680c02"></div>
<div class="r" style="left:555px;top:81px;width:108px;height:1px;background:#680c02"></div>
<div class="r" style="left:0px;top:114px;width:81px;height:1px;background:#680c02"></div>
<div class="r" style="left:195px;top:114px;width:94px;height:1px;background:#680c02"></div>
<div class="r" style="left:555px;top:114px;width:108px;height:1px;background:#680c02"></div>
<div class="r" style="left:0px;top:150px;width:81px;height:1px;background:#680c02"></div>
<div class="r" style="left:195px;top:150px;width:94px;height:1px;background:#680c02"></div>
<div class="r" style="left:555px;top:150px;width:108px;height:1px;background:#680c02"></div>
<div class="r" style="left:0px;top:186px;width:81px;height:1px;background:#680c02"></div>
<div class="r" style="left:0px;top:217px;width:81px;height:1px;background:#680c02"></div>
<div class="r" style="left:0px;top:250px;width:81px;height:1px;background:#680c02"></div>
<div class="r" style="left:0px;top:286px;width:81px;height:1px;background:#680c02"></div>
<div class="r" style="left:0px;top:332px;width:81px;height:1px;background:#680c02"></div>
<div class="r" style="left:0px;top:447.0px;width:81px;height:1px;background:#680c02"></div>
<div class="r" style="left:0px;top:562.0px;width:81px;height:1px;background:#680c02"></div>
<div class="r" style="left:0px;top:677.0px;width:81px;height:1px;background:#680c02"></div>
<div class="r" style="left:0px;top:0px;width:780px;height:1px;background:#680c02"></div>
<div class="r" style="left:0px;top:0px;width:1px;height:792px;background:#680c02"></div>
<div class="r" style="left:779px;top:0px;width:1px;height:45.5px;background:#680c02"></div>
<div class="r" style="left:81px;top:286px;width:1px;height:46px;background:#680c02"></div>
<div class="r" style="left:134px;top:286px;width:1px;height:46px;background:#680c02"></div>
<div class="r" style="left:195px;top:286px;width:1px;height:46px;background:#680c02"></div>
<div class="r" style="left:289px;top:286px;width:1px;height:46px;background:#680c02"></div>
<div class="r" style="left:360px;top:286px;width:1px;height:46px;background:#680c02"></div>
<div class="r" style="left:459px;top:286px;width:1px;height:46px;background:#680c02"></div>
<div class="r" style="left:555px;top:286px;width:1px;height:46px;background:#680c02"></div>
<div class="r" style="left:663px;top:286px;width:1px;height:46px;background:#680c02"></div>
<div class="r" style="left:713px;top:286px;width:1px;height:46px;background:#680c02"></div>
<div class="r" style="left:779px;top:286px;width:1px;height:46px;background:#680c02"></div>
<div class="tri" style="left:82px;top:333.0px"></div>
<div class="tri" style="left:82px;top:356.0px"></div>
<div class="tri" style="left:82px;top:379.0px"></div>
<div class="tri" style="left:82px;top:402.0px"></div>
<div class="tri" style="left:82px;top:425.0px"></div>
<div class="tri" style="left:82px;top:448.0px"></div>
<div class="tri" style="left:82px;top:471.0px"></div>
<div class="tri" style="left:82px;top:494.0px"></div>
<div class="tri" style="left:82px;top:517.0px"></div>
<div class="tri" style="left:82px;top:540.0px"></div>
<div class="tri" style="left:82px;top:563.0px"></div>
<div class="tri" style="left:82px;top:586.0px"></div>
<div class="tri" style="left:82px;top:609.0px"></div>
<div class="tri" style="left:82px;top:632.0px"></div>
<div class="tri" style="left:82px;top:655.0px"></div>
<div class="tri" style="left:82px;top:678.0px"></div>
<div class="tri" style="left:82px;top:701.0px"></div>
<div class="tri" style="left:82px;top:724.0px"></div>
<div class="tri" style="left:82px;top:747.0px"></div>
<div class="tri" style="left:82px;top:770.0px"></div>
<div class="ft">原创声明：本文内容版权归搜狐焦点河池站所有</div>
<div class="wm">搜狐号@搜狐焦点河池站</div>
</body></html>
